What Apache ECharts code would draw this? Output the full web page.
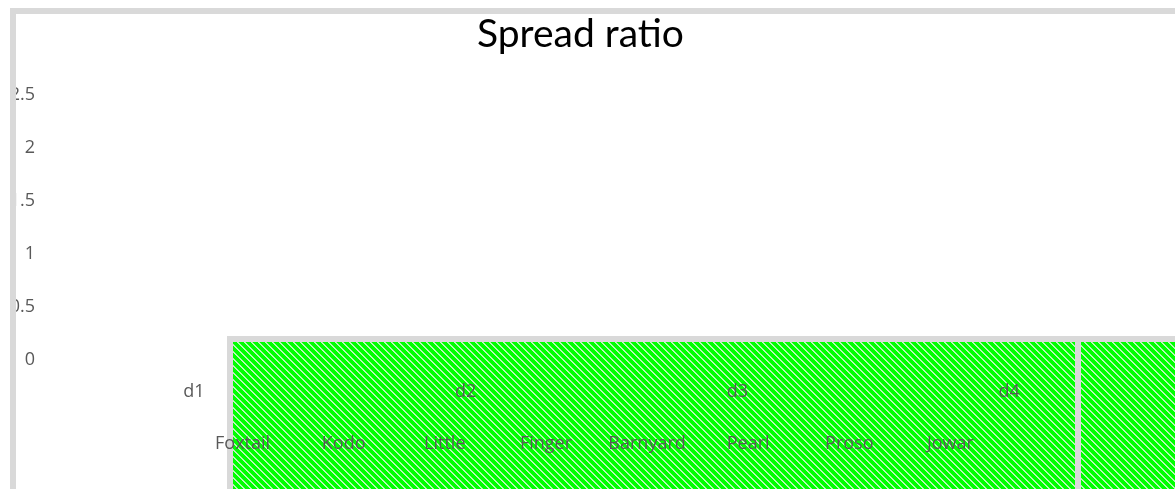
<!DOCTYPE html>
<html>
<head>
<meta charset="utf-8">
<script src="https://cdn.jsdelivr.net/npm/echarts@6/dist/echarts.min.js"></script>
<style>html,body{margin:0;padding:0;background:#fff}#c{width:1175px;height:489px}</style>
</head>
<body>
<div id="c"></div>
<script>
const title = 'Spread ratio';
const groups = ['d1', 'd2', 'd3', 'd4'];
const millets = ['Foxtail', 'Kodo', 'Little', 'Finger', 'Barnyard', 'Pearl', 'Proso', 'Jowar'];
const spreadValues = [0, 0, 0, 0];
const yTicks = [0, 0.5, 1, 1.5, 2, 2.5];

function hatch() {
  const c = document.createElement('canvas');
  c.width = 7; c.height = 7;
  const g = c.getContext('2d');
  g.fillStyle = '#00ff00';
  g.fillRect(0, 0, 7, 7);
  for (let i = 0; i < 7; i++) {
    g.fillStyle = '#c4f7c4';
    g.fillRect(i, i, 1, 1);
    g.fillStyle = '#a6f5a6';
    g.fillRect((i + 1) % 7, i, 1, 1);
  }
  return c;
}
const pat = { image: hatch(), repeat: 'repeat' };
const font = 'Lato, "Open Sans", sans-serif';
const lblFont = '"Open Sans", Lato, sans-serif';
const chart = echarts.init(document.getElementById('c'));
chart.setOption({
  animation: false,
  title: { text: title, left: 472, top: 10, textStyle: { fontFamily: font, fontWeight: 'normal', fontSize: 39, color: '#000' } },
  grid: [
    { left: 58, right: 30, top: 95, bottom: 129 },
    { left: 192, right: 174, top: 95, bottom: 129 }
  ],
  xAxis: [
    { type: 'category', gridIndex: 0, data: groups, z: 20,
      axisLine: { show: false }, axisTick: { show: false },
      axisLabel: { margin: 23, fontFamily: lblFont, fontSize: 18, color: '#595959' } },
    { type: 'category', gridIndex: 1, data: millets, z: 20,
      axisLine: { show: false }, axisTick: { show: false },
      axisLabel: { margin: 75, fontFamily: lblFont, fontSize: 18, color: '#595959', interval: 0 } }
  ],
  yAxis: [
    { type: 'value', gridIndex: 0, min: 0, max: 2.5, interval: 0.5, z: 1,
      axisLine: { show: false }, axisTick: { show: false }, splitLine: { show: false },
      axisLabel: { margin: 23, fontFamily: lblFont, fontSize: 18, color: '#595959' } },
    { type: 'value', gridIndex: 1, min: 0, max: 2.5, interval: 0.5, show: false }
  ],
  series: [
    { type: 'bar', xAxisIndex: 0, yAxisIndex: 0, data: spreadValues, itemStyle: { color: '#4472c4' } }
  ],
  graphic: [
    { type: 'rect', z: 5, shape: { x: 227, y: 336, width: 960, height: 160 }, style: { fill: '#d9d9d9' } },
    { type: 'rect', z: 6, shape: { x: 233, y: 342, width: 842, height: 160 }, style: { fill: pat } },
    { type: 'rect', z: 6, shape: { x: 1081, y: 342, width: 100, height: 160 }, style: { fill: pat } },
    { type: 'rect', z: 30, shape: { x: 10, y: 8, width: 1170, height: 6 }, style: { fill: '#d9d9d9' } },
    { type: 'rect', z: 30, shape: { x: 10, y: 8, width: 6, height: 490 }, style: { fill: '#d9d9d9' } }
  ]
});
</script>
</body>
</html>
